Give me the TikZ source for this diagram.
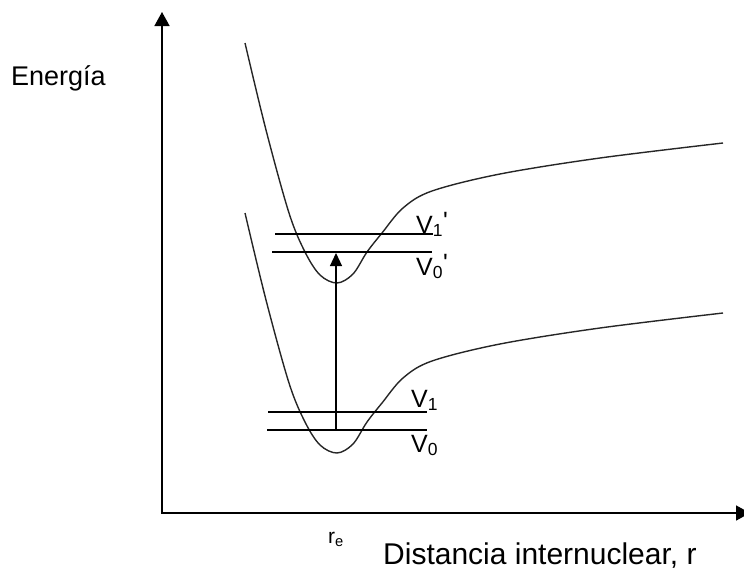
\documentclass[tikz,border=0pt]{standalone}
\usepackage{fontspec}
\setmainfont{Liberation Sans}
\usetikzlibrary{arrows.meta}

\newcommand{\wellcurve}{plot[smooth,tension=0.55] coordinates {(245,43) (266,130) (289,213) (305,252) (320,275) (337,283) (353,274) (367,252) (382,233) (403,208) (432,191) (500,174) (600,158) (723,143)}}
\newcommand{\vprime}{\raisebox{0.14em}{\textquotesingle}}

\begin{document}
\begin{tikzpicture}[x=1pt,y=-1pt,
  every node/.style={inner sep=0pt,anchor=base west},
  axis/.style={line width=1.6pt,{Triangle[width=15pt,length=14pt]}-{Triangle[width=15pt,length=14pt]}},
  well/.style={line width=1.4pt,black!85},
  level/.style={line width=1.3pt},
  lbl/.style={font=\fontsize{25}{28}\selectfont},
  >={Triangle[width=12pt,length=13pt]}]

\useasboundingbox (0,0) rectangle (744,570);

% axes
\coordinate (O) at (162,513);
\coordinate (ytop) at (162,12);
\coordinate (xend) at (750,513);
\draw[axis] (ytop) -- (O) -- (xend);

\node[font=\fontsize{27}{30}\selectfont] (energia) at (11,85) {Energía};
\node[font=\fontsize{30}{34}\selectfont] (dist) at (383,564) {Distancia internuclear, r};
\node[font=\fontsize{21}{24}\selectfont] (re) at (328,543) {r\textsubscript{e}};

% potential curves
\draw[well] \wellcurve;
\draw[well,yshift=-170pt] \wellcurve;

% vibrational levels
\draw[level] (275,234) -- (433,234);
\draw[level] (272,252) -- (432,252);
\draw[level] (268,412) -- (427,412);
\draw[level] (267,430) -- (427,430);

\node[lbl] (v1e) at (416,233) {V\textsubscript{1}\vprime};
\node[lbl] (v0e) at (416,275) {V\textsubscript{0}\vprime};
\node[lbl] (v1g) at (411,407) {V\textsubscript{1}};
\node[lbl] (v0g) at (411,452) {V\textsubscript{0}};

% transition
\coordinate (g0) at (336,430);
\coordinate (e0) at (336,253);
\draw[->,line width=1.2pt] (g0) -- (e0);

\end{tikzpicture}
\end{document}
